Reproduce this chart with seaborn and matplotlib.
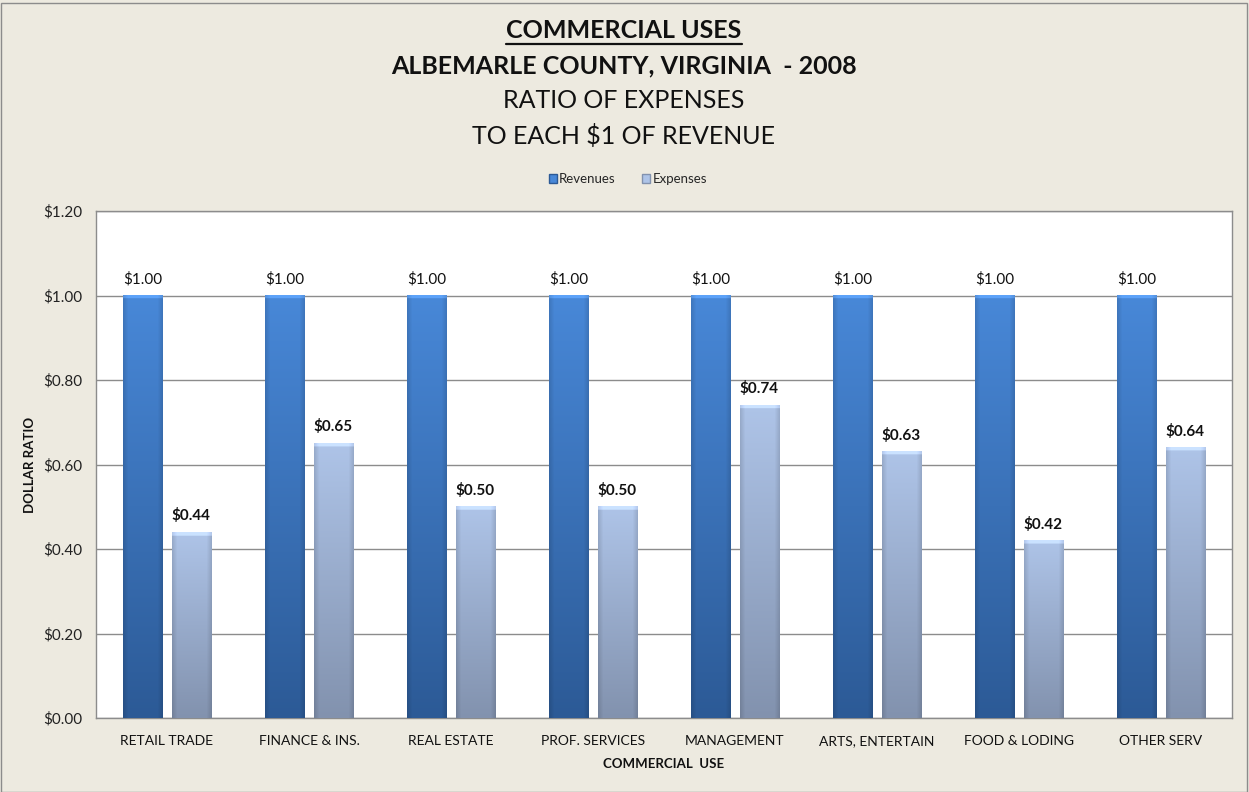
import numpy as np
import pandas as pd
import matplotlib
matplotlib.use("Agg")
import matplotlib.pyplot as plt
import seaborn as sns
from matplotlib.patches import Rectangle, Patch
from matplotlib.lines import Line2D
from matplotlib.colors import to_rgb

# ---- data ----
categories = ["RETAIL TRADE", "FINANCE & INS.", "REAL ESTATE", "PROF. SERVICES",
              "MANAGEMENT", "ARTS, ENTERTAIN", "FOOD & LODING", "OTHER SERV"]
revenues = [1.00, 1.00, 1.00, 1.00, 1.00, 1.00, 1.00, 1.00]
expenses = [0.44, 0.65, 0.50, 0.50, 0.74, 0.63, 0.42, 0.64]
series_names = ["Revenues", "Expenses"]
y_ticks = [0.0, 0.2, 0.4, 0.6, 0.8, 1.0, 1.2]

df = pd.DataFrame({
    "use": categories * 2,
    "series": [series_names[0]] * len(categories) + [series_names[1]] * len(categories),
    "ratio": revenues + expenses,
})

BG = "#EDEAE0"
REV_TOP, REV_BOT = "#4888D8", "#2C5A96"
EXP_TOP, EXP_BOT = "#AEC4E8", "#8292AE"

sns.set_theme(style="white")
plt.rcParams["font.family"] = ["Lato", "DejaVu Sans"]

W, H = 1249, 792
fig = plt.figure(figsize=(W / 100, H / 100), dpi=100, facecolor=BG)
ax = fig.add_axes([96 / W, 1 - 718 / H, (1232 - 96) / W, (718 - 211) / H])
ax.set_facecolor("white")

sns.barplot(data=df, x="use", y="ratio", hue="series", order=categories,
            hue_order=series_names, palette=[REV_BOT, EXP_BOT],
            width=0.68, gap=0.19, legend=False, ax=ax, zorder=3,
            edgecolor="none", linewidth=0)


def shade(patch, top, bot):
    """Paint a bevelled vertical gradient inside a bar."""
    x0, w, h = patch.get_x(), patch.get_width(), patch.get_height()
    n, m = 400, 40
    t = np.linspace(0, 1, n)[:, None, None]          # 0 at top, 1 at bottom
    c = (1 - t) * np.array(to_rgb(top)) + t * np.array(to_rgb(bot))
    c = np.repeat(c, m, axis=1)
    xs = np.linspace(-1, 1, m)
    edge = 1 - 0.12 * np.clip(np.abs(xs) - 0.75, 0, None) / 0.25
    c = c * edge[None, :, None]
    cap = max(1, int(n * 0.009 / max(h, 1e-6)))
    c[:cap] = np.clip(c[:cap] * 1.08 + 0.06, 0, 1)
    ax.imshow(np.clip(c, 0, 1), extent=[x0, x0 + w, 0, h], aspect="auto",
              origin="upper", zorder=4, clip_path=patch, clip_on=True,
              interpolation="bilinear")


bars = ax.patches[:]
n_cat = len(categories)
for i, p in enumerate(bars):
    if i < n_cat:
        shade(p, REV_TOP, REV_BOT)
    else:
        shade(p, EXP_TOP, EXP_BOT)

ax.set_xlim(-0.5, n_cat - 0.5)
ax.set_ylim(0, 1.2)

# value labels
for i, p in enumerate(bars):
    val = revenues[i] if i < n_cat else expenses[i - n_cat]
    ax.annotate(f"${val:.2f}", (p.get_x() + p.get_width() / 2, p.get_height()),
                xytext=(0, 6.5), textcoords="offset points", ha="center", va="bottom",
                fontsize=11, color="#111111",
                fontweight="normal" if i < n_cat else "bold", zorder=6)

# axes styling
ax.set_yticks(y_ticks)
ax.set_yticklabels([f"${v:.2f}" for v in y_ticks], fontsize=11, color="#222222")
ax.tick_params(axis="y", pad=10, length=0)
ax.tick_params(axis="x", pad=12, length=0, labelsize=10, labelcolor="#111111")
ax.yaxis.grid(True, color="#8C8C8C", linewidth=1.0, zorder=1)
ax.set_axisbelow(True)
for s in ax.spines.values():
    s.set_color("#8C8C8C")
    s.set_linewidth(1.0)
ax.set_xlabel("COMMERCIAL  USE", fontsize=9.5, fontweight="bold", labelpad=8, color="#111111")
ax.set_ylabel("DOLLAR RATIO", fontsize=9.5, fontweight="bold", labelpad=5, color="#111111")

# titles
t1 = fig.text(624 / W, 1 - 31 / H, "COMMERCIAL USES", ha="center", va="center",
              fontsize=18, fontweight="bold", color="#111111")
fig.text(624 / W, 1 - 66 / H, "ALBEMARLE COUNTY, VIRGINIA  - 2008", ha="center",
         va="center", fontsize=18, fontweight="bold", color="#111111")
fig.text(624 / W, 1 - 101 / H, "RATIO OF EXPENSES", ha="center", va="center",
         fontsize=18, color="#111111")
fig.text(624 / W, 1 - 136 / H, "TO EACH $1 OF REVENUE", ha="center", va="center",
         fontsize=18, color="#111111")

# underline for the first title line
fig.canvas.draw()
bb = t1.get_window_extent(fig.canvas.get_renderer())
uy = bb.y0 - 1
fig.add_artist(Line2D([bb.x0 / W, bb.x1 / W], [uy / H, uy / H], color="#111111",
                      linewidth=1.6, transform=fig.transFigure))

# legend
handles = [Patch(facecolor=REV_TOP, edgecolor=REV_BOT),
           Patch(facecolor=EXP_TOP, edgecolor=EXP_BOT)]
fig.legend(handles, series_names, loc="center", bbox_to_anchor=(628 / W, 1 - 179 / H),
           ncol=2, frameon=False, fontsize=9.5, handlelength=0.6, handleheight=0.6,
           handletextpad=0.2, columnspacing=2.0)

# outer frame
fig.add_artist(Rectangle((0.5 / W, 0.5 / H), (W - 3) / W, (H - 3) / H, fill=False,
                         edgecolor="#8C8C8C", linewidth=1.0, transform=fig.transFigure))

fig.savefig("out.png", dpi=100, facecolor=BG)
